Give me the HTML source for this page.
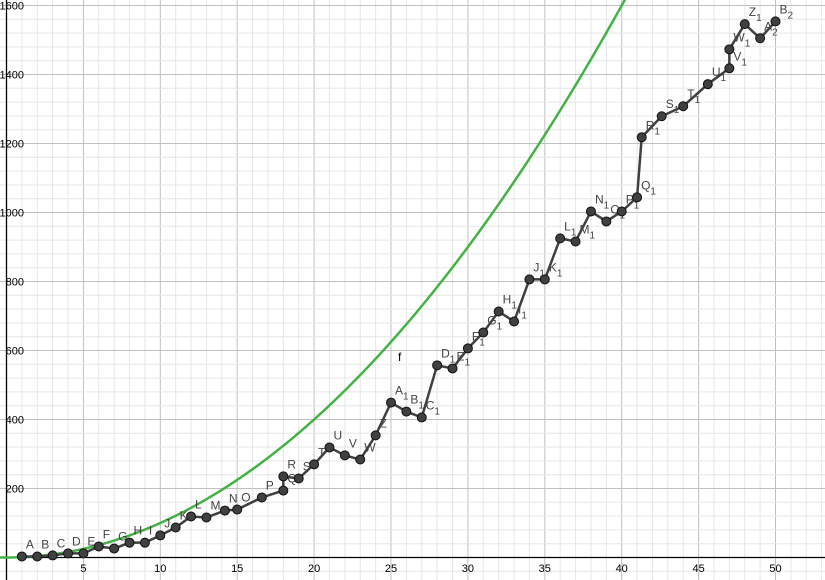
<!DOCTYPE html>
<html><head><meta charset="utf-8"><style>
html,body{margin:0;padding:0;background:#fff;}
svg{display:block;font-family:"Liberation Sans",sans-serif;}
</style></head><body>
<svg id="chart" width="825" height="580" viewBox="0 0 825 580" xmlns="http://www.w3.org/2000/svg">
<g id="grid"></g>
<g id="axes"></g>
<g id="curve"></g>
<g id="series"></g>
</svg>
<script>
const names = ["A","B","C","D","E","F","G","H","I","J","K","L","M","N","O","P","Q","R","S","T","U","V","W","Z","A1","B1","C1","D1","E1","F1","G1","H1","I1","J1","K1","L1","M1","N1","O1","P1","Q1","R1","S1","T1","U1","V1","W1","Z1","A2","B2"];
const xs = [1,2,3,4,5,6,7,8,9,10,11,12,13,14.2,15,16.6,18,18,19,20,21,22,23,24,25,26,27,28,29,30,31,32,33,34,35,36,37,38,39,40,41,41.3,42.6,44,45.6,47,47,48,49,50];
const ys = [3,3,6,12,12,32,26,43,43,64,87,119,116,136,139,174,194,235,229,270,319,296,284,354,449,423,406,557,548,606,652,713,684,806,806,925,916,1003,974,1003,1044,1218,1279,1308,1372,1418,1473,1546,1505,1554];
const xTicks = [5,10,15,20,25,30,35,40,45,50];
const yTicks = [200,400,600,800,1000,1200,1400,1600];

const X0 = 6.5, XS = 15.38, Y0 = 557.5, YS = 0.345;
const sx = v => X0 + v*XS;
const sy = v => Y0 - v*YS;
const NS = "http://www.w3.org/2000/svg";
function mk(tag, parent, attrs){ const e=document.createElementNS(NS,tag); for(const k in attrs) e.setAttribute(k,attrs[k]); parent.appendChild(e); return e; }

const grid = document.getElementById('grid');
for(let i=-1;i<=53;i++){
  const x=sx(i); const major = i%5===0;
  const l=mk('line',grid,{x1:x,y1:0,x2:x,y2:580,stroke:major?'#c0c0c0':'#e6e6e6','stroke-width':1});
  
  
}
for(let v=-40;v<=1640;v+=40){
  const y=sy(v); const major = v%200===0;
  const l=mk('line',grid,{x1:0,y1:y,x2:825,y2:y,stroke:major?'#c0c0c0':'#e6e6e6','stroke-width':1});
  
  
}
const axes = document.getElementById('axes');
let a=mk('line',axes,{x1:0,y1:Y0,x2:825,y2:Y0,stroke:'#000','stroke-width':1.3});
 
a=mk('line',axes,{x1:X0,y1:0,x2:X0,y2:580,stroke:'#000','stroke-width':1.3});
 
xTicks.forEach(t=>{
  const e=mk('text',axes,{x:sx(t),y:572,'text-anchor':'middle','font-size':11,fill:'#000'});
  e.textContent=t;
   
});
yTicks.forEach(t=>{
  const e=mk('text',axes,{x:24,y:sy(t)+4,'text-anchor':'end','font-size':11,fill:'#000'});
  e.textContent=t;
   
});

// f(x)=x^2
const curve=document.getElementById('curve');
let d='';
for(let x=-1;x<=41;x+=0.1){ d+=(d?'L':'M')+sx(x).toFixed(2)+','+sy(x*x).toFixed(2); }
let p=mk('path',curve,{d:d,fill:'none',stroke:'#44b244','stroke-width':2.5});
 
let fl=mk('text',curve,{x:398,y:361,'font-size':12,fill:'#000'}); fl.textContent='f';
 

const series=document.getElementById('series');
let pd='';
xs.forEach((x,i)=>{ pd+=(i?'L':'M')+sx(x).toFixed(2)+','+sy(ys[i]).toFixed(2); });
p=mk('path',series,{d:pd,fill:'none',stroke:'#404040','stroke-width':2.5,'stroke-linejoin':'round'});
 
xs.forEach((x,i)=>{
  const c=mk('circle',series,{cx:sx(x),cy:sy(ys[i]),r:4.5,fill:'#404040',stroke:'#111','stroke-width':1});
  
  
  const n=names[i];
  const t=mk('text',series,{x:sx(x)+4,y:sy(ys[i])-8,'font-size':12,fill:'#444'});
  
  
  t.appendChild(document.createTextNode(n[0]));
  if(n.length>1){ const s=mk('tspan',t,{dy:5,'font-size':10}); s.textContent=n.slice(1); }
});
</script>
</body></html>
